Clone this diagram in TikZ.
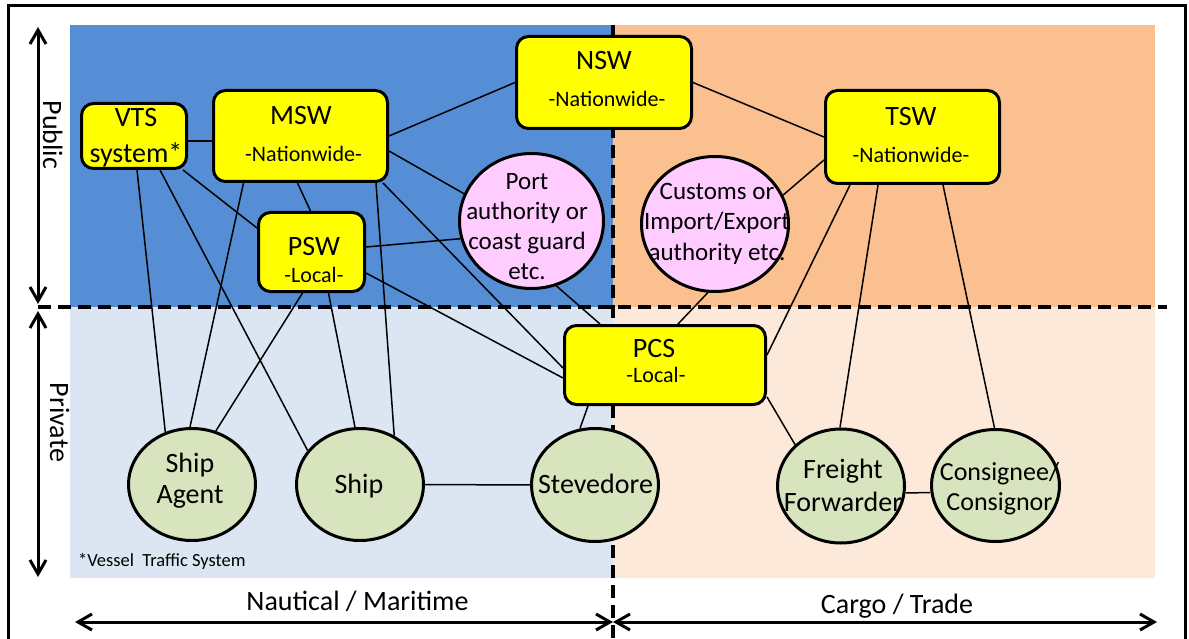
\documentclass[tikz,border=0pt]{standalone}
\usepackage{fontspec}
\setmainfont{Carlito}
\usetikzlibrary{shapes.geometric,arrows.meta}

\definecolor{pubblue}{RGB}{85,142,213}
\definecolor{privblue}{RGB}{220,230,242}
\definecolor{puborange}{RGB}{250,192,144}
\definecolor{privorange}{RGB}{253,233,217}
\definecolor{swyellow}{RGB}{255,255,0}
\definecolor{authpink}{RGB}{255,204,255}
\definecolor{actorgreen}{RGB}{215,228,189}

\pgfdeclarelayer{regions}
\pgfdeclarelayer{links}
\pgfsetlayers{regions,links,main}

\begin{document}
\begin{tikzpicture}[
  x=1pt, y=-1pt,
  ybox/.style={draw, line width=3pt, rounded corners=12pt, fill=swyellow, inner sep=0pt},
  oval/.style={ellipse, draw, line width=3pt, inner sep=0pt},
  authoval/.style={oval, fill=authpink},
  actoroval/.style={oval, fill=actorgreen},
  link/.style={line width=1.5pt},
  ttl/.style={anchor=base, inner sep=0pt, outer sep=0pt, font=\fontsize{28}{34}\selectfont},
  subttl/.style={anchor=base, inner sep=0pt, outer sep=0pt, font=\fontsize{22}{26}\selectfont},
  block/.style={anchor=north, align=center, inner sep=0pt, outer sep=0pt},
  divider/.style={line width=3.5pt, dash pattern=on 13pt off 7pt},
  frame/.style={line width=3pt},
  arr/.style={line width=3pt, >={Straight Barb[length=14pt,width=16pt]}, <->},
  axislbl/.style={inner sep=0pt, outer sep=0pt, font=\fontsize{28}{34}\selectfont}
]
\path[use as bounding box] (0,0) rectangle (1189,639);

% ---------- background quadrants, dividers and axes ----------
\begin{pgfonlayer}{regions}
  \fill[pubblue]    (70,25)  rectangle (613,307);
  \fill[privblue]   (70,307) rectangle (613,578);
  \fill[puborange]  (613,25) rectangle (1155,307);
  \fill[privorange] (613,307) rectangle (1155,578);

  \draw[frame] (8.5,650) -- (8.5,5.5) -- (1185.5,5.5) -- (1185.5,650);

  \draw[divider] (38,307) -- (1167,307);
  \draw[divider] (613,25) -- (613,650);

  \coordinate (pubtop) at (38,27);
  \coordinate (pubbot) at (38,304);
  \coordinate (privtop) at (38,311);
  \coordinate (privbot) at (38,577);
  \coordinate (nautl) at (75,622);
  \coordinate (mid) at (613,622);
  \coordinate (cargor) at (1157,622);
  \draw[arr] (pubtop) -- (pubbot);
  \draw[arr] (privtop) -- (privbot);
  \draw[arr] (nautl) -- (mid);
  \draw[arr] (mid) -- (cargor);
\end{pgfonlayer}

\node[axislbl, rotate=-90, anchor=base] (publbl) at (43,135) {Public};
\node[axislbl, rotate=-90, anchor=base] (privlbl) at (50,422.5) {Private};
\node[axislbl, anchor=base] (nautlbl) at (357.5,610) {Nautical / Maritime};
\node[axislbl, anchor=base] (cargolbl) at (897,613) {Cargo / Trade};
\node[anchor=base west, inner sep=0pt, font=\fontsize{18.5}{22}\selectfont] (vtsnote) at (78,566) {*Vessel\ \ Traffic System};

% ---------- single windows and PCS ----------
\node[ybox, minimum width=105pt, minimum height=65pt] (vts) at (134,136) {};
\node[ybox, minimum width=174pt, minimum height=91pt] (msw) at (300.5,136) {};
\node[ybox, minimum width=106pt, minimum height=79pt] (psw) at (311.5,252) {};
\node[ybox, minimum width=175pt, minimum height=92pt] (nsw) at (604,82.5) {};
\node[ybox, minimum width=174pt, minimum height=93pt] (tsw) at (912.5,137) {};
\node[ybox, minimum width=201pt, minimum height=79pt] (pcs) at (665,365) {};

\node[block, font=\fontsize{28}{36}\selectfont] (vtsT) at (136,101.8) {\strut VTS\\system*};
\node[ttl] (mswT) at (301,125) {MSW};
\node[subttl] (mswS) at (303.5,162) {-Nationwide-};
\node[ttl] (nswT) at (604,70) {NSW};
\node[subttl] (nswS) at (607,107) {-Nationwide-};
\node[ttl] (tswT) at (911,126) {TSW};
\node[subttl] (tswS) at (911,163) {-Nationwide-};
\node[ttl] (pswT) at (314,255) {PSW};
\node[subttl] (pswS) at (314,283) {-Local-};
\node[ttl] (pcsT) at (654,357) {PCS};
\node[subttl] (pcsS) at (656,382) {-Local-};

% ---------- authorities ----------
\node[authoval, minimum width=144pt, minimum height=135pt] (port) at (531.5,221) {};
\node[authoval, minimum width=147pt, minimum height=135pt] (customs) at (715,224) {};
\node[block, font=\fontsize{25}{30}\selectfont] (portT) at (527,169) {\strut Port\\authority or\\coast guard\\etc.};
\node[block, font=\fontsize{25}{31}\selectfont] (customsT) at (717,177.3) {\strut Customs or\\Import/Export\\authority etc.};

% ---------- private actors ----------
\node[actoroval, minimum width=127pt, minimum height=112pt] (agent) at (192,484.5) {};
\node[actoroval, minimum width=127pt, minimum height=112pt] (ship) at (360,484.5) {};
\node[actoroval, minimum width=127pt, minimum height=113pt] (stev) at (595,485) {};
\node[actoroval, minimum width=127pt, minimum height=114pt] (freight) at (841,486) {};
\node[actoroval, minimum width=128pt, minimum height=112pt] (cons) at (995.5,485.5) {};

\node[block, font=\fontsize{28}{31}\selectfont] (agentT) at (190,450.3) {\strut Ship\\Agent};
\node[ttl] (shipT) at (359,493) {Ship};
\node[ttl] (stevT) at (595.5,493) {Stevedore};
\node[block, font=\fontsize{28}{33}\selectfont] (freightT) at (843,454.9) {\strut Freight\\Forwarder};
\node[block, font=\fontsize{26}{30}\selectfont] (consT) at (999.5,459) {\strut Consignee/\\Consignor};

% ---------- links ----------
\begin{pgfonlayer}{links}
  \draw[link] ([yshift=-5pt]vts.east) -- ([yshift=-5pt]msw.west);
  \draw[link] (msw.east) -- (nsw.west);
  \draw[link] (nsw.east) -- (tsw.west);
  \draw[link] ([xshift=-3pt]msw.south) -- ([xshift=-1pt]psw.north);
  \draw[link] ([yshift=-15pt]msw.east) -- (port.158);
  \draw[link] ([xshift=-6pt]msw.south east) -- ([yshift=-3pt]pcs.west);
  \draw[link] ([yshift=5pt]psw.east) -- (port.194);
  \draw[link] ([yshift=-21pt]psw.east) -- ([yshift=-13pt]pcs.west);
  \draw[link] ([xshift=-9pt]psw.south) -- (agent.66);
  \draw[link] ([xshift=17pt]psw.south) -- (ship.95);
  \draw[link] ([xshift=-5pt]vts.south east) -- ([yshift=24pt]psw.west);
  \draw[link] ([xshift=3pt]vts.south) -- (agent.117);
  \draw[link] ([xshift=26pt]vts.south) -- (ship.147);
  \draw[link] ([xshift=-57pt]msw.south) -- (agent.92);
  \draw[link] ([xshift=75.5pt]msw.south) -- (ship.55);
  \draw[link] (ship) -- (stev);
  \draw[link] ([xshift=-77pt]pcs.south) -- (stev.105);
  \draw[link] (customs.264) -- ([xshift=13pt]pcs.north);
  \draw[link] (customs.23) -- ([yshift=-23pt]tsw.west);
  \draw[link] ([xshift=-62.5pt]tsw.south) -- ([yshift=10pt]pcs.east);
  \draw[link] ([xshift=-34.5pt]tsw.south) -- (freight.91);
  \draw[link] ([xshift=30.5pt]tsw.south) -- (cons.91);
  \draw[link] ([yshift=9pt]pcs.south east) -- (freight.138);
  \draw[link] ([yshift=-7pt]freight.east) -- ([yshift=-7pt]cons.west);
  \draw[link] (port.291) -- ([xshift=-65pt]pcs.north);
\end{pgfonlayer}
\end{tikzpicture}
\end{document}
